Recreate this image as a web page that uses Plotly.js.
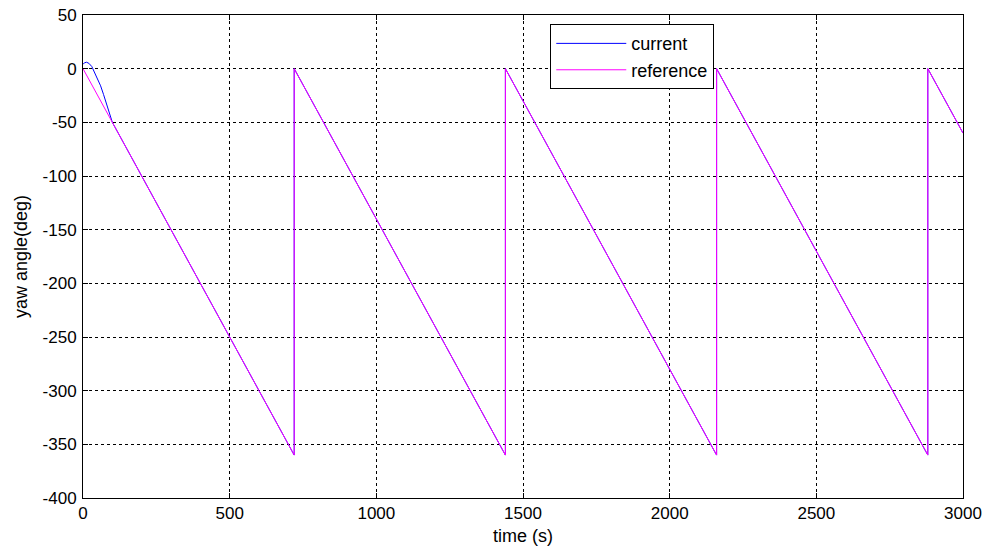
<!DOCTYPE html>
<html>
<head>
<meta charset="utf-8">
<script src="https://cdn.plot.ly/plotly-3.0.1.min.js"></script>
<style>
  html, body { margin: 0; padding: 0; background: #ffffff; }
  #chart { width: 989px; height: 549px; }
</style>
</head>
<body>
<div id="chart"></div>
<script>
// Yaw reference: ramps at -0.5 deg/s, wraps from -360 back to 0 every 720 s
const refTime  = [0, 720, 720, 1440, 1440, 2160, 2160, 2880, 2880, 3000];
const refYaw   = [0, -360, 0, -360, 0, -360, 0, -360, 0, -60];

// Measured yaw: short overshoot at start, then tracks the reference
const curTime  = [0, 5, 12, 20, 30, 40, 50, 60, 70, 80, 90, 100, 110, 720, 720, 1440, 1440, 2160, 2160, 2880, 2880, 3000];
const curYaw   = [4, 5.5, 6, 5, 2, -4, -10, -16, -24, -32, -41, -50, -55, -360, 0, -360, 0, -360, 0, -360, 0, -60];

const seriesNames = ['current', 'reference'];
const xTickVals = [0, 500, 1000, 1500, 2000, 2500, 3000];
const yTickVals = [50, 0, -50, -100, -150, -200, -250, -300, -350, -400];

const family = 'Liberation Sans, Arial, sans-serif';
const tickFont = { family: family, size: 17, color: '#000000' };
const titleFont = { family: family, size: 18, color: '#000000' };

const traces = [
  { x: curTime, y: curYaw, name: seriesNames[0], mode: 'lines',
    line: { color: '#0000ff', width: 1 } },
  { x: refTime, y: refYaw, name: seriesNames[1], mode: 'lines',
    line: { color: '#ff00ff', width: 1 } }
];

const axisCommon = {
  showline: true, linecolor: '#000000', linewidth: 1, mirror: 'allticks',
  ticks: 'inside', ticklen: 5, tickcolor: '#000000', tickwidth: 1,
  showgrid: true, gridcolor: '#000000', gridwidth: 1, griddash: 'dot',
  zeroline: false, tickfont: tickFont
};

const layout = {
  width: 989, height: 549,
  margin: { l: 83, r: 26, t: 15, b: 51 },
  paper_bgcolor: '#ffffff', plot_bgcolor: '#ffffff',
  font: tickFont,
  xaxis: Object.assign({}, axisCommon, {
    range: [0, 3000], tickvals: xTickVals, ticktext: xTickVals.map(String),
    ticklabelstandoff: 0,
    title: { text: 'time (s)', font: titleFont, standoff: 6 }
  }),
  yaxis: Object.assign({}, axisCommon, {
    range: [-400, 50], tickvals: yTickVals, ticktext: yTickVals.map(String),
    ticklabelstandoff: 2,
    title: { text: 'yaw angle(deg)', font: titleFont, standoff: 10 }
  }),
  showlegend: true,
  legend: {
    x: 0.531, y: 0.981, xanchor: 'left', yanchor: 'top',
    bgcolor: '#ffffff', bordercolor: '#000000', borderwidth: 1,
    font: { family: family, size: 18, color: '#000000' },
    itemwidth: 70, tracegroupgap: 0
  }
};

Plotly.newPlot('chart', traces, layout, { displayModeBar: false, staticPlot: true });
</script>
</body>
</html>
